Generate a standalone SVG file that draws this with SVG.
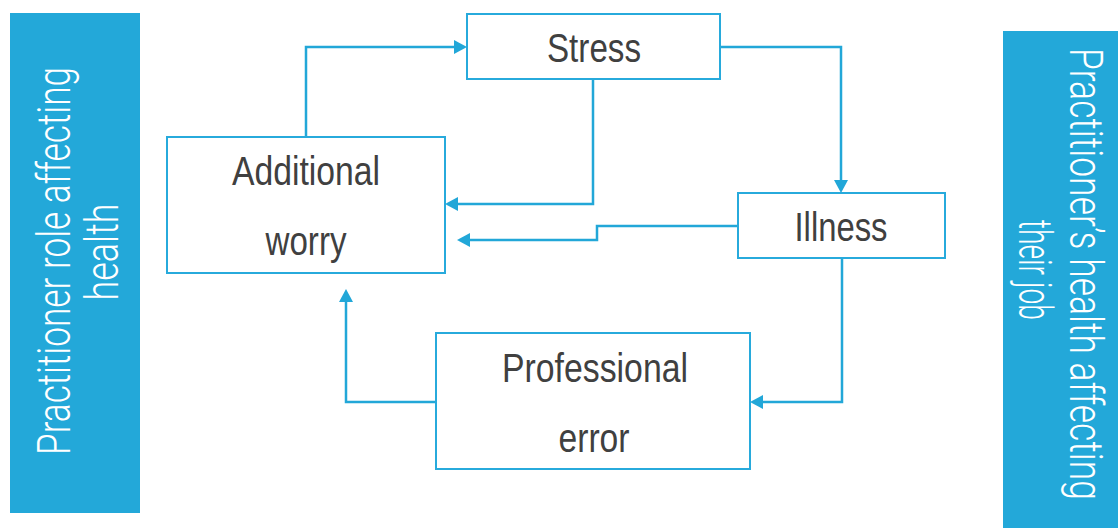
<svg xmlns="http://www.w3.org/2000/svg" width="1118" height="528" viewBox="0 0 1118 528">
<style>
.box{fill:#ffffff;stroke:#27aadc;stroke-width:2}
.band{fill:#23a8d9}
.lbl{font-family:"Liberation Sans","Roboto",sans-serif;font-size:40px;fill:#404040;text-anchor:middle}
.blbl{font-family:"Roboto","Liberation Sans",sans-serif;font-weight:300;font-size:46px;fill:#ffffff;text-anchor:middle}
.con{fill:none;stroke:#22a7d8;stroke-width:2.5}
</style>
<defs>
<marker id="ah" markerUnits="userSpaceOnUse" markerWidth="14" markerHeight="14" refX="5" refY="7" orient="auto" viewBox="0 0 14 14">
<path d="M0,0 L13,7 L0,14 z" fill="#22a7d8"/>
</marker>
</defs>
<g id="band-left">
<rect class="band" x="10" y="13" width="130" height="500"/>
<text class="blbl" transform="translate(70,261) rotate(-90) scale(0.77,1)" textLength="504" lengthAdjust="spacingAndGlyphs">Practitioner role affecting</text>
<text class="blbl" transform="translate(118,252) rotate(-90) scale(0.77,1)" textLength="126" lengthAdjust="spacingAndGlyphs">health</text>
</g>
<g id="band-right">
<rect class="band" x="1003" y="31" width="115" height="497"/>
<text class="blbl" transform="translate(1070,274) rotate(90) scale(0.77,1)" textLength="587" lengthAdjust="spacingAndGlyphs">Practitioner’s health affecting</text>
<text class="blbl" transform="translate(1019,270) rotate(90) scale(0.77,1)" textLength="130" lengthAdjust="spacingAndGlyphs">their job</text>
</g>
<g id="connectors">
<path class="con" d="M306,137 V47 H459" marker-end="url(#ah)"/>
<path class="con" d="M720,47 H841 V185" marker-end="url(#ah)"/>
<path class="con" d="M593,79 V204 H453" marker-end="url(#ah)"/>
<path class="con" d="M738,226 H597 V240 H465" marker-end="url(#ah)"/>
<path class="con" d="M842,258 V402 H758" marker-end="url(#ah)"/>
<path class="con" d="M436,402 H346 V297" marker-end="url(#ah)"/>
</g>
<g id="stress">
<rect class="box" x="467" y="14" width="253" height="65"/>
<text class="lbl" x="594" y="62" textLength="94" lengthAdjust="spacingAndGlyphs">Stress</text>
</g>
<g id="additional-worry">
<rect class="box" x="167" y="137" width="278" height="136"/>
<text class="lbl" x="306" y="185" textLength="148" lengthAdjust="spacingAndGlyphs">Additional</text>
<text class="lbl" x="306" y="255" textLength="81" lengthAdjust="spacingAndGlyphs">worry</text>
</g>
<g id="illness">
<rect class="box" x="738" y="193" width="207" height="65"/>
<text class="lbl" x="841" y="241" textLength="93" lengthAdjust="spacingAndGlyphs">Illness</text>
</g>
<g id="professional-error">
<rect class="box" x="436" y="333" width="314" height="136"/>
<text class="lbl" x="595" y="382" textLength="186" lengthAdjust="spacingAndGlyphs">Professional</text>
<text class="lbl" x="594" y="452" textLength="71" lengthAdjust="spacingAndGlyphs">error</text>
</g>
</svg>
